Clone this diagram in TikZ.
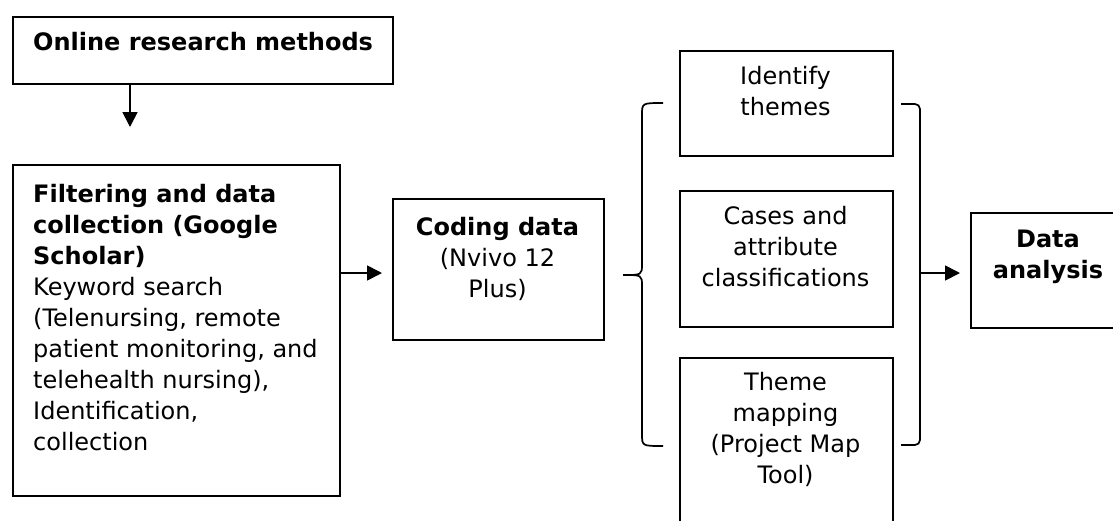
\documentclass[tikz,border=0pt]{standalone}
\usepackage{fontspec}
\setmainfont{DejaVu Sans}
\usetikzlibrary{arrows.meta}
\begin{document}
\begin{tikzpicture}[x=1pt,y=-1pt,
  box/.style={draw,line width=1.7pt,inner sep=0pt,anchor=north west},
  txt/.style={inner sep=0pt,font=\fontsize{24}{31}\selectfont},
  arr/.style={line width=1.7pt,-{Triangle[length=15pt,width=15pt]}},
  brk/.style={line width=1.7pt}]
\path[use as bounding box,clip] (0,0) rectangle (1113,520);
% boxes
\node[box,minimum width=380pt,minimum height=67pt] (b1) at (12,16) {};
\node[box,minimum width=327pt,minimum height=331pt] (b2) at (12,164) {};
\node[box,minimum width=211pt,minimum height=141pt] (b3) at (392,198) {};
\node[box,minimum width=213pt,minimum height=105pt] (bA) at (679,50) {};
\node[box,minimum width=213pt,minimum height=136pt] (bB) at (679,190) {};
\node[box,minimum width=213pt,minimum height=190pt] (bC) at (679,357) {};
\node[box,minimum width=156pt,minimum height=115pt] (bD) at (970,212) {};
% texts
\node[txt,anchor=north west,align=left] (t1) at (33,29) {\strut\textbf{Online research methods}};
\node[txt,anchor=north west,align=left] (t2) at (33,181) {\strut\textbf{Filtering and data}\\\textbf{collection (Google}\\\textbf{Scholar)}\\Keyword search\\(Telenursing, remote\\patient monitoring, and\\telehealth nursing),\\Identification,\\collection};
\node[txt,anchor=north,align=center] (t3) at (497.5,214) {\strut\textbf{Coding data}\\(Nvivo 12\\Plus)};
\node[txt,anchor=north,align=center] (tA) at (785.5,63) {\strut Identify\\themes};
\node[txt,anchor=north,align=center] (tB) at (785.5,203) {\strut Cases and\\attribute\\classifications};
\node[txt,anchor=north,align=center] (tC) at (785.5,369) {\strut Theme\\mapping\\(Project Map\\Tool)};
\node[txt,anchor=north,align=center] (tD) at (1048,226) {\strut\textbf{Data}\\\textbf{analysis}};
% arrows
\coordinate (e1) at (130,127);
\draw[arr] (e1 |- b1.south) -- (e1);
\coordinate (e2) at (382,273);
\draw[arr] (b2.east |- e2) -- (e2);
% left brace
\coordinate (lt) at (663,103);
\coordinate (lb) at (663,446);
\coordinate (lm) at (623,275);
\draw[brk] (lt) .. controls (642,103) .. (642,115) -- (642,264)
  .. controls (642,275) .. (lm) .. controls (642,275) .. (642,286)
  -- (642,434) .. controls (642,446) .. (lb);
% right bracket
\coordinate (rt) at (901,104);
\coordinate (rb) at (901,445);
\coordinate (rm) at (920,273);
\draw[brk,rounded corners=5pt] (rt) -- (920,104) -- (920,445) -- (rb);
\coordinate (e3) at (960,273);
\draw[arr] (rm) -- (e3);
\end{tikzpicture}
\end{document}
